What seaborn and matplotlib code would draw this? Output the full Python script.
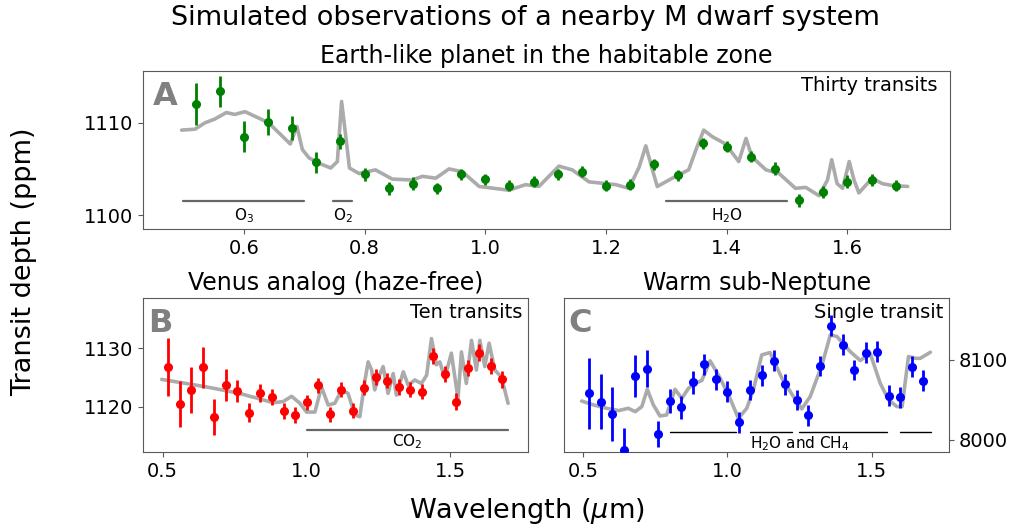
import numpy as np
import pandas as pd
import seaborn as sns
import matplotlib
matplotlib.use("Agg")
import matplotlib.pyplot as plt

# binned wavelengths of the simulated observations (um)
obs_wl = [0.52, 0.56, 0.60, 0.64, 0.68, 0.72, 0.76, 0.80, 0.84, 0.88,
          0.92, 0.96, 1.00, 1.04, 1.08, 1.12, 1.16, 1.20, 1.24, 1.28,
          1.32, 1.36, 1.40, 1.44, 1.48, 1.52, 1.56, 1.60, 1.64, 1.68]

# A: Earth-like planet, thirty transits
earth_depth = [1112.0, 1113.4, 1108.5, 1110.1, 1109.4, 1105.7, 1108.0, 1104.4, 1102.9, 1103.4,
               1102.9, 1104.4, 1103.9, 1103.2, 1103.6, 1104.4, 1104.7, 1103.2, 1103.3, 1105.5,
               1104.3, 1107.8, 1107.4, 1106.3, 1105.0, 1101.6, 1102.5, 1103.6, 1103.8, 1103.2]
earth_err = [2.3, 1.7, 1.7, 1.4, 1.3, 1.1, 0.8, 0.7, 0.7, 0.7,
             0.6, 0.6, 0.6, 0.6, 0.6, 0.6, 0.6, 0.6, 0.6, 0.6,
             0.6, 0.6, 0.6, 0.6, 0.7, 0.7, 0.7, 0.7, 0.6, 0.6]
earth_model_wl = [0.497, 0.519, 0.536, 0.552, 0.571, 0.585, 0.602, 0.641, 0.677, 0.688,
                  0.697, 0.708, 0.725, 0.744, 0.755, 0.762, 0.769, 0.775, 0.791, 0.818,
                  0.846, 0.879, 0.896, 0.918, 0.940, 0.962, 0.990, 1.039, 1.067, 1.089,
                  1.122, 1.144, 1.172, 1.216, 1.238, 1.255, 1.266, 1.277, 1.285, 1.310,
                  1.337, 1.351, 1.362, 1.376, 1.398, 1.420, 1.432, 1.442, 1.465, 1.487,
                  1.514, 1.531, 1.553, 1.567, 1.574, 1.583, 1.592, 1.603, 1.611, 1.619,
                  1.641, 1.658, 1.675, 1.700]
earth_model = [1109.2, 1109.3, 1110.0, 1110.4, 1111.1, 1110.9, 1111.2, 1110.0, 1107.7, 1109.6,
               1107.1, 1106.2, 1105.6, 1105.1, 1105.8, 1112.3, 1108.5, 1105.1, 1104.5, 1104.9,
               1103.9, 1103.8, 1104.2, 1104.0, 1105.0, 1104.7, 1103.1, 1102.7, 1103.3, 1103.1,
               1105.3, 1104.9, 1103.6, 1103.3, 1102.9, 1105.2, 1107.5, 1104.9, 1103.1, 1104.0,
               1104.9, 1107.4, 1109.2, 1108.5, 1107.7, 1105.8, 1108.3, 1106.3, 1104.9, 1104.5,
               1102.9, 1103.0, 1102.1, 1103.8, 1106.0, 1103.4, 1102.9, 1105.8, 1103.8, 1102.4,
               1104.0, 1103.4, 1103.2, 1103.1]

# B: Venus analog, ten transits
venus_depth = [1126.8, 1120.5, 1122.9, 1126.8, 1118.2, 1123.7, 1122.7, 1119.0, 1122.4, 1121.7,
               1119.3, 1118.6, 1120.8, 1123.7, 1118.7, 1122.9, 1119.3, 1123.3, 1125.1, 1124.5,
               1123.4, 1122.9, 1122.6, 1128.7, 1125.6, 1120.9, 1126.6, 1129.3, 1127.0, 1124.7]
venus_err = [5.0, 3.9, 3.9, 3.5, 3.1, 2.7, 1.9, 1.6, 1.5, 1.4,
             1.4, 1.4, 1.3, 1.3, 1.3, 1.3, 1.3, 1.3, 1.3, 1.3,
             1.3, 1.3, 1.3, 1.3, 1.4, 1.4, 1.4, 1.4, 1.4, 1.4]
venus_model_wl = [0.497, 0.653, 0.768, 0.803, 0.820, 0.884, 0.919, 0.948, 0.977, 1.000,
                  1.029, 1.052, 1.075, 1.098, 1.122, 1.144, 1.168, 1.185, 1.202, 1.214,
                  1.226, 1.237, 1.249, 1.266, 1.283, 1.301, 1.312, 1.336, 1.353, 1.376,
                  1.399, 1.417, 1.434, 1.451, 1.463, 1.480, 1.503, 1.526, 1.538, 1.555,
                  1.573, 1.590, 1.602, 1.619, 1.634, 1.654, 1.677, 1.700]
venus_model = [1124.7, 1123.4, 1122.3, 1121.8, 1121.6, 1120.7, 1120.9, 1121.8, 1120.6, 1119.1,
               1119.1, 1123.4, 1120.3, 1120.6, 1122.9, 1122.3, 1118.6, 1118.3, 1124.3, 1127.7,
               1126.3, 1122.9, 1124.9, 1126.9, 1122.3, 1125.7, 1122.0, 1126.0, 1123.7, 1124.6,
               1124.0, 1125.4, 1131.7, 1127.2, 1127.7, 1124.9, 1129.2, 1121.4, 1129.4, 1124.0,
               1131.4, 1126.3, 1131.4, 1126.9, 1130.9, 1126.3, 1125.1, 1120.6]

# C: warm sub-Neptune, single transit
nep_depth = [8058.3, 8047.9, 8032.5, 7987.5, 8080.0, 8088.8, 8007.5, 8049.2, 8040.8, 8072.0,
             8094.6, 8075.8, 8060.4, 8022.0, 8062.5, 8081.0, 8099.0, 8069.6, 8050.0, 8031.0,
             8092.5, 8142.9, 8118.8, 8087.5, 8109.2, 8110.4, 8055.4, 8053.3, 8091.7, 8074.2]
nep_err = [44, 34, 34, 28, 26, 23, 16, 15, 14, 14,
           13, 13, 13, 13, 13, 13, 13, 13, 13, 13,
           13, 13, 13, 13, 13, 13, 13, 13, 13, 13]
nep_model_wl = [0.494, 0.535, 0.581, 0.622, 0.656, 0.680, 0.703, 0.722, 0.743, 0.766,
                0.789, 0.818, 0.842, 0.865, 0.888, 0.911, 0.940, 0.975, 1.009, 1.038,
                1.067, 1.090, 1.119, 1.148, 1.189, 1.229, 1.258, 1.287, 1.328, 1.357,
                1.380, 1.426, 1.461, 1.495, 1.530, 1.559, 1.588, 1.606, 1.628, 1.652,
                1.669, 1.704]
nep_model = [8048.7, 8043.8, 8039.6, 8036.7, 8039.6, 8035.4, 8041.7, 8063.3, 8043.8, 8030.0,
             8031.3, 8063.3, 8052.0, 8064.6, 8070.8, 8074.2, 8098.8, 8077.1, 8052.0, 8027.0,
             8039.6, 8062.5, 8106.3, 8109.2, 8077.1, 8054.2, 8038.8, 8054.2, 8093.8, 8131.3,
             8129.2, 8110.4, 8099.2, 8108.3, 8070.8, 8050.0, 8041.7, 8041.7, 8104.2, 8102.0,
             8102.0, 8109.6]

# absorption bands (start, end) and labels
earth_bands = [(0.50, 0.70), (0.747, 0.78), (1.30, 1.50)]
earth_band_labels = ["O$_3$", "O$_2$", "H$_2$O"]
venus_bands = [(1.00, 1.70)]
venus_band_labels = ["CO$_2$"]
nep_bands = [(0.80, 1.03), (1.08, 1.225), (1.25, 1.555), (1.60, 1.705)]
nep_band_label = "H$_2$O and CH$_4$"

sns.set_style("ticks")
plt.rcParams["font.family"] = ["DejaVu Sans"]
plt.rcParams["text.color"] = "black"
plt.rcParams["axes.labelcolor"] = "black"
plt.rcParams["axes.titlecolor"] = "black"
plt.rcParams["axes.edgecolor"] = "0.35"
plt.rcParams["xtick.color"] = "0.35"
plt.rcParams["ytick.color"] = "0.35"
plt.rcParams["xtick.labelcolor"] = "black"
plt.rcParams["ytick.labelcolor"] = "black"
plt.rcParams["xtick.labelsize"] = 14
plt.rcParams["ytick.labelsize"] = 14

fig = plt.figure(figsize=(10.1, 5.27), dpi=100)
axA = fig.add_axes([0.1416, 0.5655, 0.799, 0.2998])
axB = fig.add_axes([0.1419, 0.1417, 0.3811, 0.2923])
axC = fig.add_axes([0.5584, 0.1417, 0.3816, 0.2923])


def draw(ax, mwl, mdepth, depth, err, color):
    sns.lineplot(x=mwl, y=mdepth, ax=ax, color="0.67", lw=2.6, sort=False,
                 estimator=None, zorder=1, solid_joinstyle="round")
    ax.errorbar(obs_wl, depth, yerr=err, fmt="o", color=color, ms=5.5,
                elinewidth=2.0, capsize=0, zorder=3)
    ax.set_xlim(0.433, 1.77)


draw(axA, earth_model_wl, earth_model, earth_depth, earth_err, "green")
axA.set_ylim(1098.5, 1115.6)
axA.set_yticks([1100, 1110])
axA.set_xticks([0.6, 0.8, 1.0, 1.2, 1.4, 1.6])
for (a, b), lab in zip(earth_bands, earth_band_labels):
    axA.plot([a, b], [1101.5, 1101.5], color="0.4", lw=1.6)
    axA.text((a + b) / 2, 1099.9, lab, ha="center", va="center", fontsize=11)
axA.set_title("Earth-like planet in the habitable zone", fontsize=17)

draw(axB, venus_model_wl, venus_model, venus_depth, venus_err, "red")
axB.set_ylim(1112.2, 1138.6)
axB.set_yticks([1120, 1130])
axB.set_xticks([0.5, 1.0, 1.5])
for (a, b), lab in zip(venus_bands, venus_band_labels):
    axB.plot([a, b], [1116.1, 1116.1], color="0.4", lw=1.6)
    axB.text((a + b) / 2, 1114.0, lab, ha="center", va="center", fontsize=11)
axB.set_title("Venus analog (haze-free)", fontsize=17)

draw(axC, nep_model_wl, nep_model, nep_depth, nep_err, "blue")
axC.set_ylim(7984.6, 8177)
axC.set_yticks([8000, 8100])
axC.set_xticks([0.5, 1.0, 1.5])
axC.yaxis.tick_right()
for a, b in nep_bands:
    axC.plot([a, b], [8010, 8010], color="black", lw=1.0)
axC.text(1.252, 7995, nep_band_label, ha="center", va="center", fontsize=11)
axC.set_title("Warm sub-Neptune", fontsize=17)

for ax, letter, note in [(axA, "A", "Thirty transits"), (axB, "B", "Ten transits"),
                         (axC, "C", "Single transit")]:
    ax.annotate(letter, xy=(0.012, 1.0), xycoords="axes fraction", xytext=(0, -7),
                textcoords="offset points", ha="left", va="top",
                fontsize=23, fontweight="bold", color="gray")
    ax.text(0.985, 0.97, note, transform=ax.transAxes, ha="right", va="top",
            fontsize=14)

fig.suptitle("Simulated observations of a nearby M dwarf system", x=0.52, y=0.99,
             fontsize=19.5)
fig.text(0.024, 0.503, "Transit depth (ppm)", rotation=90, ha="center", va="center",
         fontsize=19.5)
fig.text(0.522, 0.03, r"Wavelength ($\mu$m)", ha="center", va="center", fontsize=19.5)

fig.savefig("out.png", dpi=100)
